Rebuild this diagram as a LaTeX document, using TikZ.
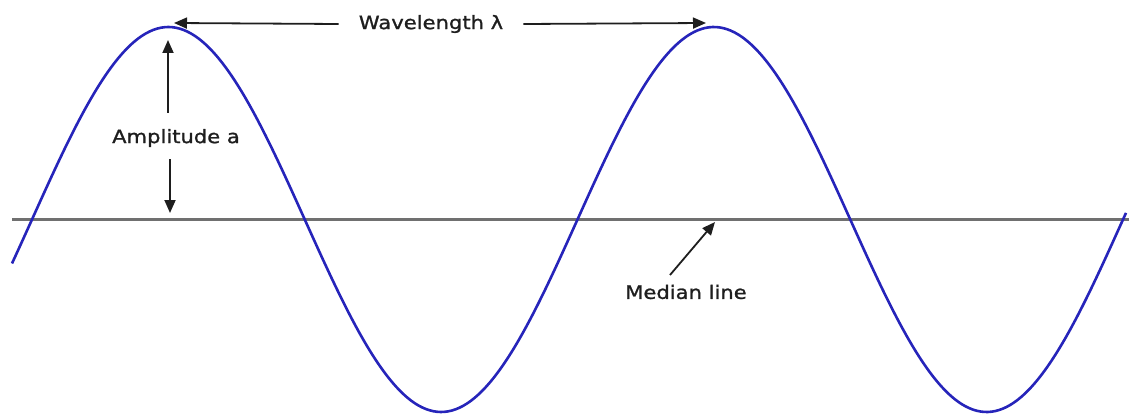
\documentclass[tikz,border=0pt]{standalone}
\usepackage{fontspec}
\newfontfamily\lblfont[FakeStretch=1.14,FakeBold=1.2]{DejaVu Sans}
\usetikzlibrary{arrows.meta}
\definecolor{wave}{RGB}{38,36,186}
\definecolor{median}{RGB}{112,112,112}
\definecolor{ink}{RGB}{30,30,30}
\tikzset{
  lbl/.style={font=\lblfont\fontsize{18.5}{20}\selectfont, text=ink, inner sep=0pt},
  ptr/.style={draw=ink, line width=1.8pt, -{Triangle[length=13pt,width=11pt]}}
}
\begin{document}
\begin{tikzpicture}[x=1pt,y=1pt]
\useasboundingbox (0,0) rectangle (1129,413);
% median line
\coordinate (mL) at (12,193.5);
\coordinate (mR) at (1129,193.5);
\draw[median, line width=3pt] (mL) -- (mR);
% sine wave
\draw[wave, line width=2.6pt, smooth, samples=300, domain=12:1126]
  plot (\x, {193.5 + 192.5*sin(0.659945*(\x-32))});
% wavelength
\node[lbl] (wl) at (431,389) {Wavelength λ};
\coordinate (p1) at (174,390);
\coordinate (p2) at (706,390);
\draw[ptr] ([xshift=-20pt]wl.west) -- (p1);
\draw[ptr] ([xshift=20pt]wl.east) -- (p2);
% amplitude
\node[lbl] (amp) at (176,275) {Amplitude a};
\coordinate (aT) at (168,373);
\coordinate (aB) at (170,200);
\draw[ptr] ([xshift=-8pt,yshift=16pt]amp.north) -- (aT);
\draw[ptr] ([xshift=-6pt,yshift=-12pt]amp.south) -- (aB);
% median label
\node[lbl] (med) at (686,121) {Median line};
\coordinate (ms) at (670,138);
\coordinate (mt) at (715,191);
\draw[ptr] (ms) -- (mt);
\end{tikzpicture}
\end{document}
